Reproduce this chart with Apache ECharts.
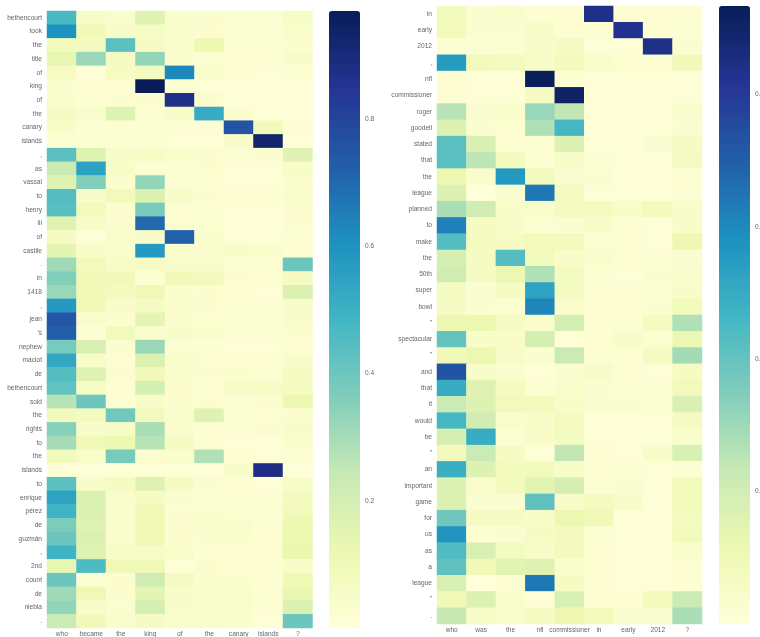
<!DOCTYPE html>
<html><head><meta charset="utf-8">
<script src="https://cdn.jsdelivr.net/npm/echarts@6/dist/echarts.min.js"></script>
<style>html,body{margin:0;padding:0;background:#fff}#c{width:760px;height:637px;filter:blur(0.45px)}</style>
</head><body><div id="c"></div>
<script>
const leftWords = ["bethencourt","took","the","title","of","king","of","the","canary","islands",",","as","vassal","to","henry","iii","of","castile",".","in","1418",",","jean","'s","nephew","maciot","de","bethencourt","sold","the","rights","to","the","islands","to","enrique","pérez","de","guzmán",",","2nd","count","de","niebla","."];
const leftQuestion = ["who","became","the","king","of","the","canary","islands","?"];
const leftValues = [
[.47,.06,.04,.17,.04,.03,.025,.025,.06],
[.60,.10,.05,.06,.04,.03,.02,.02,.04],
[.09,.08,.43,.07,.04,.12,.02,.02,.03],
[.14,.32,.07,.33,.03,.02,.02,.02,.05],
[.07,.01,.07,.08,.63,.04,.02,.01,.02],
[.03,.02,.02,.97,.02,.01,.01,.01,.01],
[.04,.02,.03,.03,.87,.03,.01,.01,.01],
[.07,.04,.17,.02,.05,.52,.03,.01,.01],
[.05,.02,.02,.02,.02,.02,.76,.09,.02],
[.02,.02,.02,.02,.01,.01,.05,.93,.01],
[.43,.17,.05,.06,.04,.03,.02,.03,.16],
[.23,.55,.05,.02,.02,.03,.01,.01,.05],
[.17,.36,.03,.33,.02,.02,.01,.01,.03],
[.45,.05,.09,.18,.05,.03,.02,.02,.04],
[.44,.09,.03,.38,.02,.02,.01,.01,.03],
[.17,.06,.03,.70,.03,.02,.01,.01,.03],
[.07,.01,.04,.05,.72,.04,.01,.01,.02],
[.15,.05,.04,.58,.04,.03,.05,.04,.02],
[.31,.09,.06,.07,.05,.05,.02,.02,.40],
[.36,.10,.10,.02,.10,.08,.03,.02,.07],
[.32,.10,.08,.11,.03,.03,.02,.01,.18],
[.58,.11,.05,.07,.04,.03,.02,.02,.05],
[.75,.04,.03,.15,.03,.02,.02,.02,.05],
[.73,.02,.09,.04,.05,.04,.02,.02,.03],
[.38,.19,.03,.32,.02,.02,.01,.01,.02],
[.53,.05,.02,.18,.04,.03,.03,.02,.05],
[.45,.17,.03,.10,.04,.03,.03,.02,.07],
[.42,.06,.02,.20,.03,.02,.05,.06,.07],
[.27,.40,.02,.05,.03,.03,.02,.03,.12],
[.09,.08,.39,.08,.04,.17,.02,.02,.03],
[.35,.05,.06,.29,.03,.02,.02,.03,.05],
[.30,.10,.12,.27,.07,.02,.01,.01,.04],
[.09,.05,.38,.03,.04,.28,.02,.01,.02],
[.01,.01,.01,.01,.01,.01,.05,.88,.01],
[.43,.05,.07,.17,.07,.03,.02,.01,.06],
[.55,.18,.04,.07,.03,.02,.02,.02,.08],
[.49,.18,.04,.11,.03,.03,.02,.02,.09],
[.37,.17,.04,.11,.03,.04,.04,.02,.12],
[.40,.18,.04,.11,.03,.03,.03,.02,.12],
[.49,.17,.06,.06,.05,.02,.02,.03,.13],
[.14,.46,.11,.11,.01,.03,.02,.02,.05],
[.40,.02,.03,.22,.07,.03,.03,.02,.11],
[.31,.11,.03,.15,.05,.04,.04,.02,.13],
[.33,.05,.03,.20,.05,.04,.04,.02,.18],
[.23,.10,.04,.07,.04,.04,.03,.01,.40]];
const rightWords = ["in","early","2012",",","nfl","commissioner","roger","goodell","stated","that","the","league","planned","to","make","the","50th","super","bowl","\"","spectacular","\"","and","that","it","would","be","\"","an","important","game","for","us","as","a","league","\"","."];
const rightQuestion = ["who","was","the","nfl","commissioner","in","early","2012","?"];
const rightValues = [
[.09,.03,.04,.02,.02,.84,.02,.02,.02],
[.09,.03,.03,.05,.02,.02,.83,.02,.02],
[.02,.02,.02,.05,.06,.01,.01,.84,.03],
[.55,.09,.07,.05,.08,.04,.02,.02,.10],
[.02,.01,.01,.93,.02,.01,.01,.01,.01],
[.02,.01,.01,.06,.91,.01,.01,.01,.01],
[.26,.03,.04,.31,.24,.01,.01,.01,.04],
[.17,.03,.02,.27,.46,.01,.01,.01,.03],
[.42,.18,.02,.02,.17,.01,.01,.03,.06],
[.42,.25,.08,.02,.05,.02,.01,.01,.07],
[.11,.04,.56,.08,.03,.03,.01,.01,.02],
[.17,.00,.03,.64,.07,.01,.01,.01,.02],
[.28,.20,.05,.04,.07,.07,.05,.08,.05],
[.62,.06,.05,.02,.03,.05,.02,.01,.05],
[.43,.07,.06,.09,.08,.02,.02,.01,.11],
[.19,.06,.43,.08,.05,.04,.02,.02,.03],
[.21,.06,.12,.27,.07,.02,.01,.03,.04],
[.07,.03,.06,.53,.07,.02,.02,.02,.05],
[.06,.03,.02,.61,.04,.02,.02,.03,.09],
[.11,.12,.06,.04,.19,.02,.02,.07,.27],
[.40,.05,.05,.19,.01,.02,.05,.02,.12],
[.10,.12,.05,.03,.22,.02,.02,.06,.29],
[.73,.05,.03,.01,.03,.05,.02,.01,.06],
[.50,.16,.07,.02,.04,.03,.02,.02,.09],
[.22,.17,.09,.09,.05,.03,.03,.02,.18],
[.46,.20,.04,.05,.07,.01,.01,.01,.07],
[.19,.50,.02,.05,.07,.01,.01,.01,.04],
[.09,.22,.06,.01,.24,.02,.01,.05,.18],
[.49,.17,.08,.09,.05,.02,.02,.01,.02],
[.17,.04,.08,.15,.19,.02,.03,.01,.09],
[.17,.03,.03,.41,.05,.07,.05,.01,.09],
[.38,.06,.06,.05,.12,.10,.01,.01,.07],
[.57,.02,.03,.06,.08,.02,.01,.01,.09],
[.44,.18,.07,.05,.08,.02,.01,.01,.04],
[.41,.10,.15,.16,.04,.02,.01,.01,.02],
[.18,.00,.02,.64,.06,.02,.01,.01,.02],
[.10,.17,.04,.01,.18,.02,.02,.08,.22],
[.23,.05,.04,.06,.11,.09,.03,.03,.28]];
const ylGnBu = ["#ffffd9","#edf8b1","#c7e9b4","#7fcdbb","#41b6c4","#1d91c0","#225ea8","#253494","#081d58"];
const leftMax = 0.97, rightMax = 0.934;
const fontFamily = "Liberation Sans";
const textColor = "#666666";
const fontSize = 6.6;

const cells = v => v.flatMap((row, y) => row.map((val, x) => [x, y, val]));
const catX = (idx, data) => ({type:'category', gridIndex:idx, data, axisLine:{show:false}, axisTick:{show:false}, splitLine:{show:false},
  axisLabel:{interval:0, margin:3, hideOverlap:false, fontSize, fontFamily, color:textColor}});
const catY = (idx, data) => ({type:'category', gridIndex:idx, data, inverse:true, axisLine:{show:false}, axisTick:{show:false}, splitLine:{show:false},
  axisLabel:{interval:0, margin:5, hideOverlap:false, fontSize, fontFamily, color:textColor}});
const barX = idx => ({type:'value', gridIndex:idx, show:false, min:0, max:1});
const barY = (idx, max) => ({type:'value', gridIndex:idx, position:'right', min:0, max, interval:0.2, axisLine:{show:false}, axisTick:{show:false}, splitLine:{show:false},
  axisLabel:{margin:5, showMinLabel:false, showMaxLabel:false, fontSize, fontFamily, color:textColor, formatter:v=>v.toFixed(1)}});
const heat = (i, data) => ({type:'heatmap', xAxisIndex:i, yAxisIndex:i, data, silent:true, progressive:0, animation:false, emphasis:{disabled:true}, label:{show:false}});
const vm = (i, max, left, top, h) => ({type:'continuous', seriesIndex:i, dimension:2, min:0, max, inRange:{color:ylGnBu}, calculable:false, realtime:false, hoverLink:false,
  left, top, itemWidth:31, itemHeight:h, padding:0, text:null, showLabel:false, orient:'vertical', borderWidth:0});
const noBounds = {containLabel:false, outerBoundsMode:'none'};

echarts.init(document.getElementById('c')).setOption({
  animation:false,
  backgroundColor:'#fff',
  tooltip:{show:false},
  grid:[
    {left:47, top:11, width:265.5, height:617, ...noBounds},
    {left:437, top:6, width:265, height:618, ...noBounds},
    {left:329, top:11, width:31, height:617, ...noBounds},
    {left:719, top:6, width:31, height:618, ...noBounds}
  ],
  xAxis:[catX(0,leftQuestion), catX(1,rightQuestion), barX(2), barX(3)],
  yAxis:[catY(0,leftWords), catY(1,rightWords), barY(2,leftMax), barY(3,rightMax)],
  visualMap:[vm(0,leftMax,329,11,617), vm(1,rightMax,719,6,618)],
  series:[heat(0,cells(leftValues)), heat(1,cells(rightValues))]
});
</script></body></html>
